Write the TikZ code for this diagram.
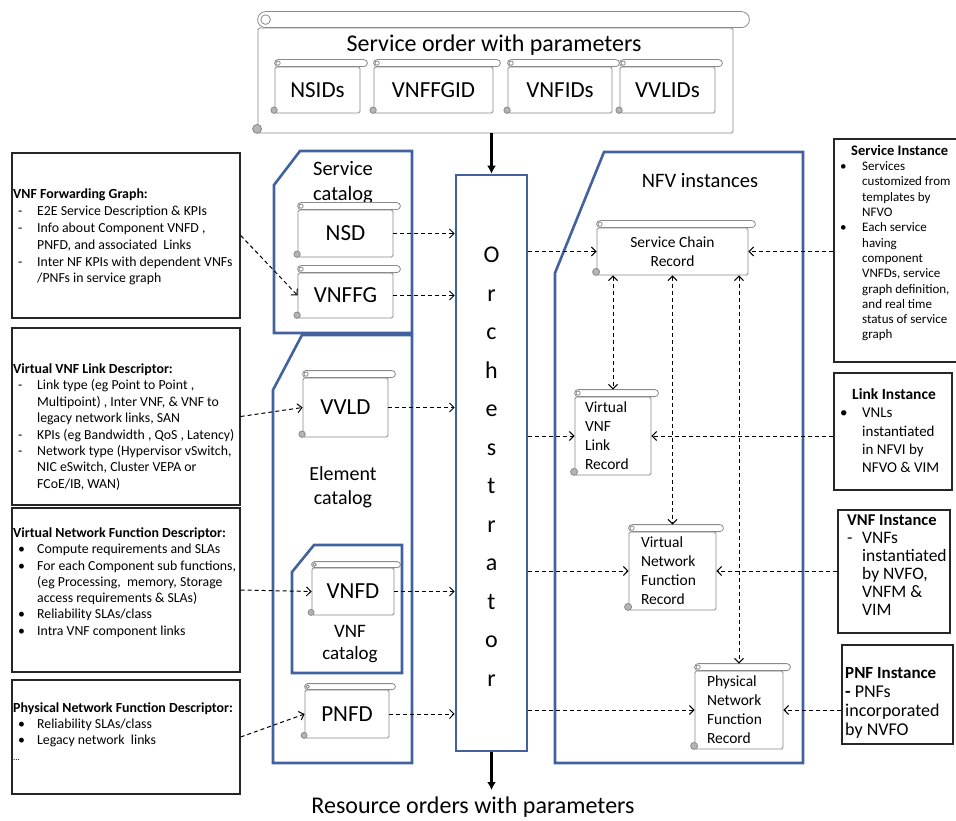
\documentclass[tikz,border=0pt]{standalone}
\usepackage{fontspec}
\setmainfont{Carlito}
\usetikzlibrary{arrows.meta,calc}

\definecolor{catblue}{HTML}{41629E}
\definecolor{scrollgray}{HTML}{8A8A8A}
\definecolor{curlgray}{HTML}{B4B4B4}

% font size / baseline skip shortcut
\newcommand\fsz[2]{\fontsize{#1}{#2}\selectfont}
% list markers for the descriptor boxes (left) and instance boxes (right)
\newcommand\lbul[1]{\hspace*{5pt}\makebox[19pt][l]{#1}}
\newcommand\lcont{\hspace*{24pt}}
\newcommand\rbul[1]{\makebox[22pt][l]{#1}}
\newcommand\rcont{\hspace*{22pt}}
\newcommand\ltitle[1]{{\fsz{13.9}{16}\textbf{#1}}}

% roll at the top and curl at the bottom left of a scroll-shaped node
% #1 node name, #2 height of the roll, #3 half of it, #4 radius of the lower curl
\newcommand\scrollon[4]{%
  \draw[scrollline, fill=white, rounded corners=#3pt]
    ($(#1.north west)+(0,-#2)$) rectangle ($(#1.north east)+(#2,0)$);
  \draw[scrollline, fill=white] ($(#1.north west)+(#3,-#3)$) circle[radius={0.6*#3pt}];
  \draw[scrollline, fill=curlgray] ($(#1.south west)+(-0.5,-#4)$) circle[radius={#4pt}];
}

\begin{document}
\begin{tikzpicture}[x=1pt,y=-1pt,
  >={Straight Barb[length=4.5pt,width=9pt]},
  scrollline/.style={draw=scrollgray, line width=0.8pt},
  scrollbox/.style={scrollline, fill=white, rounded corners=1.5pt, inner sep=0pt},
  catline/.style={draw=catblue, line width=2.6pt, line join=miter},
  infobox/.style={draw=black!85, line width=1.4pt, inner sep=0pt},
  txt/.style={anchor=north west, align=left, inner sep=0pt},
  recfont/.style={font=\fsz{15.5}{19}},
  idfont/.style={font=\fsz{23}{27}},
  dasharrow/.style={draw=black, line width=1pt, dash pattern=on 4pt off 3pt, ->},
  bigarrow/.style={draw=black, line width=2.4pt, -{Latex[length=8pt,width=9pt]}}
]
\fill[white] (0,0) rectangle (956,821);
\useasboundingbox (0,0) rectangle (956,821);

% ---------- catalog and instance containers ----------
\draw[catline] (274,185) -- (300,151) -- (412,151) -- (412,333) -- (274,333) -- cycle;
\draw[catline] (273,390) -- (302,335) -- (412,335) -- (412,763) -- (273,763) -- cycle;
\draw[catline] (292,572) -- (314,545) -- (402,545) -- (402,673) -- (292,673) -- cycle;
\draw[catline] (555,273) -- (604,152) -- (803,152) -- (803,763) -- (555,763) -- cycle;

% ---------- service order ----------
\node[scrollbox, minimum width=475pt, minimum height=105pt] (order) at (495.5,80.5) {};
\scrollon{order}{16}{8}{4.5}
\node[font=\fsz{24}{28}] (ordertitle) at (494,45) {Service order with parameters};
\node[scrollbox, idfont, minimum width=85pt, minimum height=46pt] (nsids) at (317.5,90) {NSIDs};
\scrollon{nsids}{7}{3.5}{3.2}
\node[scrollbox, idfont, minimum width=119pt, minimum height=46pt] (vnffgid) at (433.5,90) {VNFFGID};
\scrollon{vnffgid}{7}{3.5}{3.2}
\node[scrollbox, idfont, minimum width=104pt, minimum height=46pt] (vnfids) at (560,90) {VNFIDs};
\scrollon{vnfids}{7}{3.5}{3.2}
\node[scrollbox, idfont, minimum width=95pt, minimum height=46pt] (vvlids) at (667.5,90) {VVLIDs};
\scrollon{vvlids}{7}{3.5}{3.2}

% ---------- catalogs ----------
\node[align=center, font=\fsz{20.5}{25}] (svccat) at (343,182.5) {Service\\catalog};
\node[scrollbox, idfont, minimum width=95pt, minimum height=47pt] (nsd) at (345.5,233.5) {NSD};
\scrollon{nsd}{7}{3.5}{3.2}
\node[scrollbox, idfont, minimum width=95pt, minimum height=45pt] (vnffg) at (345.5,295.5) {VNFFG};
\scrollon{vnffg}{7}{3.5}{3.2}

\node[scrollbox, idfont, minimum width=85pt, minimum height=59pt] (vvld) at (345.5,407.5) {VVLD};
\scrollon{vvld}{7}{3.5}{3.2}
\node[align=center, font=\fsz{20}{24}] (elemcat) at (343,487) {Element\\catalog};
\node[scrollbox, idfont, minimum width=82pt, minimum height=47pt] (vnfd) at (353,591.5) {VNFD};
\scrollon{vnfd}{6}{3}{3}
\node[align=center, font=\fsz{19}{22}] (vnfcat) at (350,644) {VNF\\catalog};
\node[scrollbox, idfont, minimum width=84pt, minimum height=48pt] (pnfd) at (347,714) {PNFD};
\scrollon{pnfd}{6}{3}{3}

% ---------- orchestrator ----------
\node[draw=catblue, line width=2.6pt, fill=white, minimum width=71pt, minimum height=576pt] (orch) at (491.5,463) {};
\node[align=center, font=\fsz{24}{38.5}] (orchlabel) at (491.5,466.5)
  {O\\r\\c\\h\\e\\s\\t\\r\\a\\t\\o\\r};

% ---------- NFV instances ----------
\node[font=\fsz{20.5}{24}] (nfvtitle) at (700,181) {NFV instances};
\node[scrollbox, recfont, align=center, minimum width=151pt, minimum height=47pt] (scr) at (672.5,251.5)
  {Service Chain\\Record};
\scrollon{scr}{7}{3.5}{3.5}
\node[scrollbox, recfont, align=left, text width=56pt, inner xsep=10pt, minimum height=78pt] (vlr) at (613,436)
  {Virtual\\VNF\\Link\\Record};
\scrollon{vlr}{7}{3.5}{3.5}
\node[scrollbox, recfont, align=left, text width=63pt, inner xsep=12pt, minimum height=78pt] (vnfr) at (672.5,571)
  {Virtual\\Network\\Function\\Record};
\scrollon{vnfr}{7}{3.5}{3.5}
\node[scrollbox, recfont, align=left, text width=64pt, inner xsep=12pt, minimum height=78pt] (pnfr) at (739,710)
  {Physical\\Network\\Function\\Record};
\scrollon{pnfr}{7}{3.5}{3.5}

% ---------- descriptor boxes ----------
\node[infobox, minimum width=228pt, minimum height=165pt] (fgbox) at (126,235.5) {};
\node[txt, font=\fsz{13.8}{16.8}] (fgtext) at (13,189) {%
  \ltitle{VNF Forwarding Graph:}\\
  \lbul{-}E2E Service Description \& KPIs\\
  \lbul{-}Info about Component VNFD ,\\
  \lcont PNFD, and associated\ \ Links\\
  \lbul{-}Inter NF KPIs with dependent VNFs\\
  \lcont /PNFs in service graph};

\node[infobox, minimum width=228pt, minimum height=177pt] (vlbox) at (126,416.5) {};
\node[txt, font=\fsz{13.8}{16.4}] (vltext) at (13,363.5) {%
  \ltitle{Virtual VNF Link Descriptor:}\\
  \lbul{-}Link type (eg Point to Point ,\\
  \lcont Multipoint) , Inter VNF, \& VNF to\\
  \lcont legacy network links, SAN\\
  \lbul{-}KPIs (eg Bandwidth , QoS , Latency)\\
  \lbul{-}Network type (Hypervisor vSwitch,\\
  \lcont NIC eSwitch, Cluster VEPA or\\
  \lcont FCoE/IB, WAN)};

\node[infobox, minimum width=228pt, minimum height=164pt] (vdbox) at (126,590) {};
\node[txt, font=\fsz{13.8}{16.3}] (vdtext) at (13,527.5) {%
  \ltitle{Virtual Network Function Descriptor:}\\
  \lbul{•}Compute requirements and SLAs\\
  \lbul{•}For each Component sub functions,\\
  \lcont (eg Processing,\ \ memory, Storage\\
  \lcont access requirements \& SLAs)\\
  \lbul{•}Reliability SLAs/class\\
  \lbul{•}Intra VNF component links};

\node[infobox, minimum width=228pt, minimum height=114pt] (pdbox) at (126,737) {};
\node[txt, font=\fsz{13.8}{16}] (pdtext) at (13,702.5) {%
  \ltitle{Physical Network Function Descriptor:}\\
  \lbul{•}Reliability SLAs/class\\
  \lbul{•}Legacy network\ \ links\\
  {\fsz{9}{16}...}};

% ---------- instance boxes ----------
\node[infobox, minimum width=126pt, minimum height=223pt] (sibox) at (897,250.5) {};
\node[txt, font=\fsz{13}{15.3}] (sitext) at (840,145) {%
  \hspace*{11pt}{\fsz{14.5}{15.3}\textbf{Service Instance}}\\
  \rbul{•}Services\\
  \rcont customized from\\
  \rcont templates by\\
  \rcont NFVO\\
  \rbul{•}Each service\\
  \rcont having\\
  \rcont component\\
  \rcont VNFDs, service\\
  \rcont graph definition,\\
  \rcont and real time\\
  \rcont status of service\\
  \rcont graph};

\node[infobox, minimum width=118pt, minimum height=117pt] (libox) at (893,431.5) {};
\node[txt, font=\fsz{15}{18.3}] (litext) at (840,388.5) {%
  \hspace*{12pt}{\fsz{15.5}{18.3}\textbf{Link Instance}}\\
  \rbul{•}VNLs\\
  \rcont instantiated\\
  \rcont in NFVI by\\
  \rcont NFVO \& VIM};

\node[infobox, minimum width=112pt, minimum height=123pt] (vibox) at (894,571.5) {};
\node[txt, font=\fsz{17.5}{18}] (vitext) at (847,515) {%
  {\fsz{16.5}{18}\textbf{VNF Instance}}\\
  \makebox[15pt][l]{-}VNFs\\
  \hspace*{15pt}instantiated\\
  \hspace*{15pt}by NVFO,\\
  \hspace*{15pt}VNFM \&\\
  \hspace*{15pt}VIM};

\node[infobox, minimum width=111pt, minimum height=99pt] (pibox) at (897.5,694.5) {};
\node[txt, font=\fsz{18}{19}] (pitext) at (845,667) {%
  {\fsz{17}{19}\textbf{PNF Instance}}\\
  \textbf{-} PNFs\\
  incorporated\\
  by NVFO};

% ---------- descriptors into catalogs ----------
\draw[dasharrow] (fgbox.east) -- (vnffg.west);
\draw[dasharrow] (vlbox.east) -- (vvld.west);
\draw[dasharrow] (vdbox.east) -- (vnfd.west);
\draw[dasharrow] (pdbox.east) -- (pnfd.west);

% ---------- catalogs into orchestrator ----------
\draw[dasharrow] (nsd.east) -- (nsd.east -| orch.west);
\draw[dasharrow] (vnffg.east) -- (vnffg.east -| orch.west);
\draw[dasharrow] (vvld.east) -- (vvld.east -| orch.west);
\draw[dasharrow] (vnfd.east) -- (vnfd.east -| orch.west);
\draw[dasharrow] (pnfd.east) -- (pnfd.east -| orch.west);

% ---------- orchestrator into records ----------
\draw[dasharrow] (orch.east |- scr.west) -- (scr.west);
\draw[dasharrow] (orch.east |- vlr.west) -- (vlr.west);
\draw[dasharrow] (orch.east |- vnfr.west) -- (vnfr.west);
\draw[dasharrow] (orch.east |- pnfr.west) -- (pnfr.west);

% ---------- instances into records ----------
\draw[dasharrow] (sibox.west |- scr.east) -- (scr.east);
\draw[dasharrow] (libox.west |- vlr.east) -- (vlr.east);
\draw[dasharrow] (vibox.west |- vnfr.east) -- (vnfr.east);
\draw[dasharrow] (pibox.west |- pnfr.east) -- (pnfr.east);

% ---------- service chain record to component records ----------
\draw[dasharrow, <->, shorten >=7pt] (scr.south -| vlr.north) -- (vlr.north);
\draw[dasharrow, <->, shorten >=7pt] (scr.south -| vnfr.north) -- (vnfr.north);
\draw[dasharrow, <->, shorten >=7pt] (scr.south -| pnfr.north) -- (pnfr.north);

% ---------- orders in and out ----------
\draw[bigarrow] (order.south -| orch.north) -- (orch.north);
\coordinate (resend) at (491.5,790);
\draw[bigarrow] (orch.south) -- (resend);
\node[font=\fsz{24}{28}] (restitle) at (473,807) {Resource orders with parameters};
\end{tikzpicture}
\end{document}
